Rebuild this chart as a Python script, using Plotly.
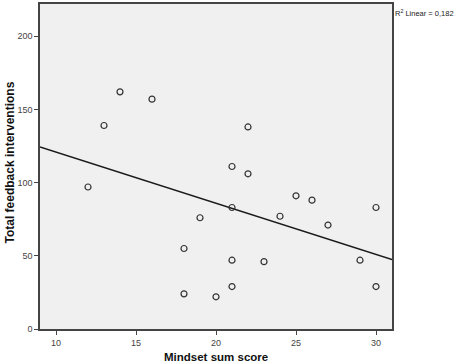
import numpy as np
import plotly.graph_objects as go

mindset = [12, 13, 14, 16, 18, 18, 19, 20, 21, 21, 21, 21, 22, 22, 23, 24, 25, 26, 27, 29, 30, 30]
feedback = [97, 139, 162, 157, 55, 24, 76, 22, 111, 83, 47, 29, 138, 106, 46, 77, 91, 88, 71, 47, 83, 29]
x_ticks = [10, 15, 20, 25, 30]
y_ticks = [0, 50, 100, 150, 200]
x_range = [9, 31]
y_range = [0, 222]

slope, intercept = np.polyfit(mindset, feedback, 1)
line_x = np.array(x_range, dtype=float)
line_y = slope * line_x + intercept

fig = go.Figure()
fig.add_trace(go.Scatter(
    x=line_x, y=line_y, mode="lines",
    line=dict(color="#1a1a1a", width=1.5), hoverinfo="skip", showlegend=False))
fig.add_trace(go.Scatter(
    x=mindset, y=feedback, mode="markers",
    marker=dict(symbol="circle-open", size=6, color="#333333", line=dict(width=1.2, color="#333333")),
    showlegend=False))

axis_common = dict(ticks="outside", ticklen=4, tickcolor="#444", showgrid=False, zeroline=False,
                   showline=True, mirror=True, linecolor="#444", linewidth=1.5, automargin=False,
                   tickfont=dict(size=9, color="#444"))

fig.update_layout(
    width=459, height=364,
    margin=dict(l=40, r=67, t=4, b=35, autoexpand=False),
    paper_bgcolor="white", plot_bgcolor="#f0f0f0",
    font=dict(family="Liberation Sans, Arial, sans-serif", color="#333333"),
    xaxis=dict(range=x_range, tickvals=x_ticks, **axis_common),
    yaxis=dict(range=y_range, tickvals=y_ticks, **axis_common),
    annotations=[
        dict(text="R<sup>2</sup> Linear = 0,182", x=1.0, y=1.0, xref="paper", yref="paper",
             xanchor="left", yanchor="middle", showarrow=False, xshift=1, yshift=-9,
             font=dict(size=7.5, color="#222")),
        dict(text="<b>Mindset sum score</b>", x=0.5, y=0, xref="paper", yref="paper",
             xanchor="center", yanchor="middle", showarrow=False, yshift=-28,
             font=dict(size=11.5, color="#111")),
        dict(text="<b>Total feedback interventions</b>", x=0, y=0.5, xref="paper", yref="paper",
             xanchor="center", yanchor="middle", showarrow=False, xshift=-31, yshift=4, textangle=-90,
             font=dict(size=12, color="#111")),
    ],
)

fig.write_html("out.html", config={"displayModeBar": False},
               post_script="document.body.style.margin='0';document.body.style.overflow='hidden';")
